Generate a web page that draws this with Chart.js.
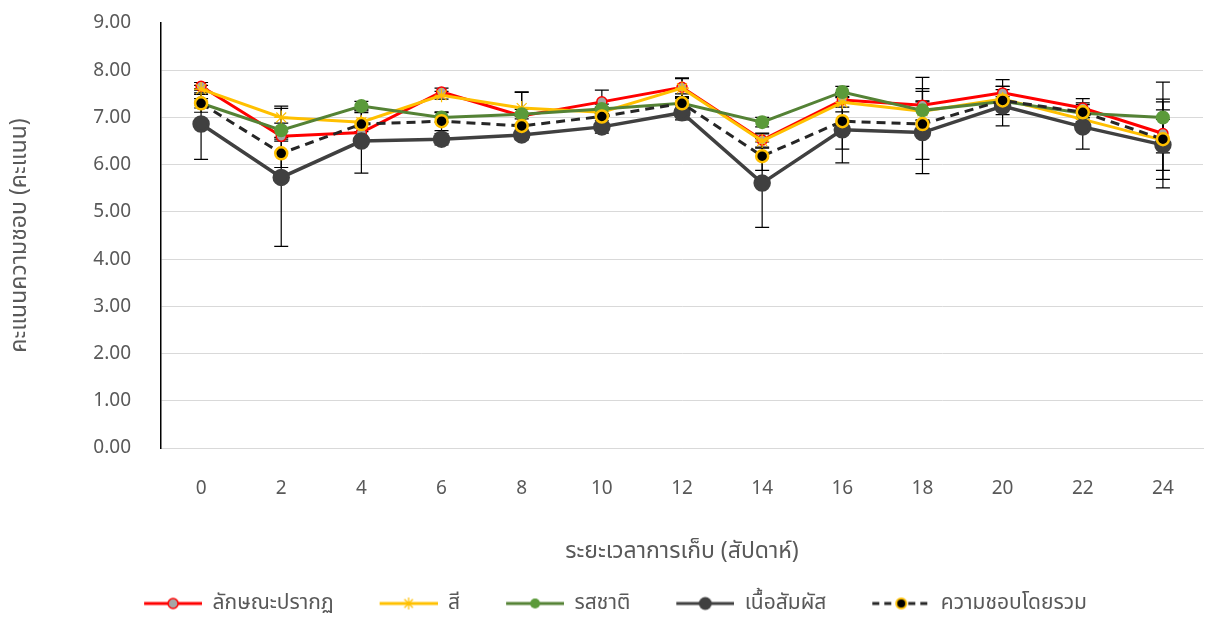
<!DOCTYPE html>
<html><head><meta charset="utf-8">
<script src="https://cdn.jsdelivr.net/npm/chart.js@4.4.1/dist/chart.umd.min.js"></script>
<style>html,body{margin:0;padding:0;background:#fff}#wrap{width:1208px;height:624px}</style>
</head><body><div id="wrap"><canvas id="c" width="1208" height="624"></canvas></div>
<script>
const weeks = ['0','2','4','6','8','10','12','14','16','18','20','22','24'];
const seriesNames = ['ลักษณะปรากฏ','สี','รสชาติ','เนื้อสัมผัส','ความชอบโดยรวม'];
const appearance = [7.66,6.60,6.68,7.54,7.03,7.33,7.64,6.52,7.37,7.26,7.52,7.20,6.66];
const colour     = [7.60,7.00,6.90,7.47,7.20,7.11,7.62,6.50,7.32,7.13,7.39,6.96,6.52];
const taste      = [7.30,6.73,7.24,7.00,7.07,7.18,7.30,6.90,7.54,7.15,7.34,7.09,7.00];
const texture    = [6.86,5.73,6.50,6.54,6.63,6.80,7.10,5.61,6.74,6.68,7.24,6.80,6.42];
const overall    = [7.30,6.24,6.86,6.92,6.82,7.02,7.30,6.18,6.92,6.86,7.36,7.11,6.54];
const appearanceSd = [0.08,0.10,0.10,0.08,0.50,0.25,0.20,0.15,0.15,0.59,0.28,0.20,0.30];
const colourSd     = [0.08,0.24,0.20,0.08,0.34,0.10,0.20,0.15,0.20,0.20,0.20,0.20,0.64];
const tasteSd      = [0.10,0.15,0.10,0.10,0.10,0.10,0.10,0.10,0.12,0.20,0.10,0.10,0.75];
const textureSd    = [0.75,1.46,0.68,0.12,0.10,0.13,0.15,0.94,0.70,0.87,0.42,0.47,0.91];
const overallSd    = [0.19,0.30,0.30,0.20,0.20,0.20,0.20,0.30,0.59,0.75,0.30,0.20,0.85];
const yTicks = [0,1,2,3,4,5,6,7,8,9];

const FONT = "'Noto Sans','Noto Sans Thai','Leelawadee UI',Tahoma,sans-serif";
const TXT = '#595959';

function icon(line, dash, drawMarker){
  const c = document.createElement('canvas');
  c.width = 86; c.height = 18;
  const g = c.getContext('2d');
  g.strokeStyle = line; g.lineWidth = 3;
  if (dash) g.setLineDash(dash);
  g.beginPath(); g.moveTo(28,9); g.lineTo(86,9); g.stroke();
  g.setLineDash([]);
  drawMarker(g,57,9);
  return c;
}
const icons = [
  icon('#ff0000',null,(g,x,y)=>{g.fillStyle='#a6a6a6';g.strokeStyle='#ff0000';g.lineWidth=1.5;g.beginPath();g.arc(x,y,5,0,Math.PI*2);g.fill();g.stroke();}),
  icon('#ffc000',null,(g,x,y)=>{g.strokeStyle='#ffc000';g.lineWidth=1.2;g.beginPath();for(let k=0;k<4;k++){const a=k*Math.PI/4;g.moveTo(x-6*Math.cos(a),y-6*Math.sin(a));g.lineTo(x+6*Math.cos(a),y+6*Math.sin(a));}g.stroke();}),
  icon('#548235',null,(g,x,y)=>{g.fillStyle='#5b9a3a';g.beginPath();g.arc(x,y,5,0,Math.PI*2);g.fill();}),
  icon('#404040',null,(g,x,y)=>{g.fillStyle='#404040';g.beginPath();g.arc(x,y,6.5,0,Math.PI*2);g.fill();}),
  icon('#262626',[7,5],(g,x,y)=>{g.fillStyle='#000';g.strokeStyle='#ffc000';g.lineWidth=2;g.beginPath();g.arc(x,y,5,0,Math.PI*2);g.fill();g.stroke();})
];

const sds = [appearanceSd, colourSd, tasteSd, textureSd, overallSd];
const errPlugin = {
  id:'errbars',
  beforeDatasetsDraw(chart){
    const {ctx, scales:{y}} = chart;
    ctx.save();
    ctx.strokeStyle = '#000'; ctx.lineWidth = 1.2;
    chart.data.datasets.forEach((ds,i)=>{
      const meta = chart.getDatasetMeta(i);
      ds.data.forEach((v,j)=>{
        const x = meta.data[j].x;
        const y1 = y.getPixelForValue(v - sds[i][j]);
        const y2 = y.getPixelForValue(v + sds[i][j]);
        ctx.beginPath();
        ctx.moveTo(x,y1); ctx.lineTo(x,y2);
        ctx.moveTo(x-7,y1); ctx.lineTo(x+7,y1);
        ctx.moveTo(x-7,y2); ctx.lineTo(x+7,y2);
        ctx.stroke();
      });
    });
    ctx.restore();
  }
};

new Chart(document.getElementById('c'), {
  type:'line',
  data:{
    labels: weeks,
    datasets:[
      {label:seriesNames[0], data:appearance, borderColor:'#ff0000', borderWidth:3, pointRadius:5, pointBackgroundColor:'#a6a6a6', pointBorderColor:'#ff0000', pointBorderWidth:1.5, order:5},
      {label:seriesNames[1], data:colour, borderColor:'#ffc000', borderWidth:3, pointStyle:'star', pointRadius:7, pointBorderColor:'#ffc000', pointBorderWidth:1.2, order:4},
      {label:seriesNames[2], data:taste, borderColor:'#548235', borderWidth:3, pointRadius:5.5, pointBackgroundColor:'#5b9a3a', pointBorderColor:'#5b9a3a', order:3},
      {label:seriesNames[3], data:texture, borderColor:'#404040', borderWidth:3.5, pointRadius:7, pointBackgroundColor:'#404040', pointBorderColor:'#404040', order:2},
      {label:seriesNames[4], data:overall, borderColor:'#262626', borderWidth:3, borderDash:[9,6], pointRadius:6, pointBackgroundColor:'#000', pointBorderColor:'#ffc000', pointBorderWidth:2.5, order:1}
    ]
  },
  options:{
    responsive:false, animation:false,
    layout:{autoPadding:false, padding:{left:0,right:5,top:23,bottom:0}},
    plugins:{
      tooltip:{enabled:false},
      legend:{
        position:'bottom',
        labels:{
          usePointStyle:true, pointStyleWidth:86, boxHeight:18,
          padding:18, color:TXT, font:{family:FONT,size:21},
          generateLabels(chart){
            return chart.data.datasets.map((ds,i)=>({text:ds.label, pointStyle:icons[i], datasetIndex:i, hidden:false, lineWidth:0, strokeStyle:'rgba(0,0,0,0)', fillStyle:'rgba(0,0,0,0)', fontColor:TXT}));
          }
        }
      }
    },
    scales:{
      x:{
        offset:true,
        grid:{display:false, drawTicks:false},
        border:{color:'#d9d9d9', width:1},
        ticks:{color:TXT, font:{family:FONT,size:19}, padding:29},
        title:{display:true, text:'ระยะเวลาการเก็บ (สัปดาห์)', color:TXT, font:{family:FONT,size:23}, padding:{top:16,bottom:10}},
        afterFit(s){ s.height = 127; s.paddingLeft = 0; s.paddingRight = 0; }
      },
      y:{
        min:0, max:9,
        afterBuildTicks(scale){ scale.ticks = yTicks.map(v=>({value:v})); },
        grid:{drawTicks:false, color:(c)=> c.tick && c.tick.value===9 ? 'rgba(0,0,0,0)' : '#d9d9d9', lineWidth:1},
        border:{color:'#000', width:1.5},
        ticks:{color:TXT, font:{family:FONT,size:19}, padding:30, callback:(v)=>Number(v).toFixed(2)},
        title:{display:true, text:'คะแนนความชอบ (คะแนน)', color:TXT, font:{family:FONT,size:23}, padding:{top:6,bottom:0}},
        afterFit(s){ s.width = 161; s.paddingTop = 0; s.paddingBottom = 0; }
      }
    }
  },
  plugins:[errPlugin]
});
</script>
</body></html>
